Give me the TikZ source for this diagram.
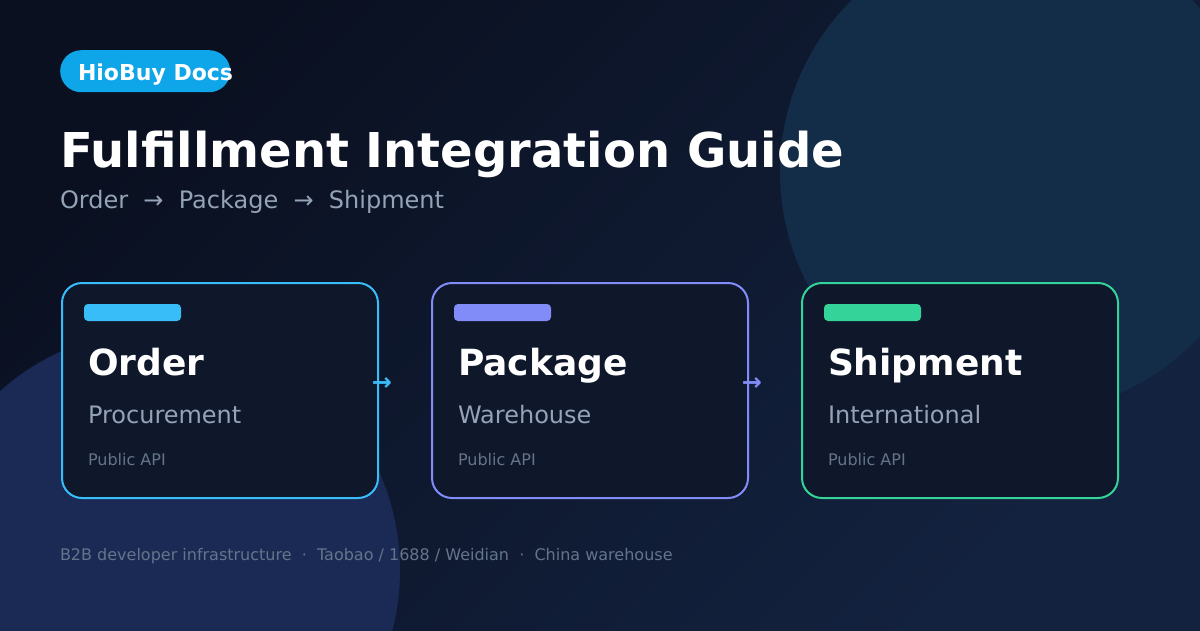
\documentclass[tikz,border=0pt]{standalone}
\usepackage{fontspec}
\setmainfont{DejaVu Sans}
\usetikzlibrary{calc}
\definecolor{bgA}{HTML}{0A1020}
\definecolor{bgB}{HTML}{13223F}
\definecolor{circTR}{HTML}{132C48}
\definecolor{circBL}{HTML}{1B2A54}
\definecolor{cardfill}{HTML}{0F172A}
\definecolor{cblue}{HTML}{38BDF8}
\definecolor{cviolet}{HTML}{818CF8}
\definecolor{cgreen}{HTML}{34D399}
\definecolor{pill}{HTML}{0EA5E9}
\definecolor{muted}{HTML}{94A3B8}
\definecolor{dim}{HTML}{64748B}
\tikzset{
  card/.style={draw=#1, fill=cardfill, line width=2pt, rounded corners=20pt,
    minimum width=316pt, minimum height=215pt, inner sep=0pt, outer sep=0pt},
  cardbar/.style={fill=#1, rounded corners=4pt},
  txt/.style={anchor=base west, inner sep=0pt, outer sep=0pt},
  cardtitle/.style={txt, text=white, font=\fontsize{36}{40}\selectfont\bfseries},
  cardsub/.style={txt, text=muted, font=\fontsize{24}{28}\selectfont},
  cardnote/.style={txt, text=dim, font=\fontsize{16}{19}\selectfont},
  flowarrow/.style={text=#1, inner sep=0pt, font=\fontsize{24}{28}\selectfont\bfseries},
}
\begin{document}
\begin{tikzpicture}[x=1pt,y=-1pt]
\useasboundingbox (0,0) rectangle (1200,630);
% background
\shade[top color=bgA, bottom color=bgB, shading angle=45] (0,0) rectangle (1200,630);
\fill[circTR] (1022,172) circle (242);
\fill[circBL] (160,570) circle (240);
% header
\node[fill=pill, rounded corners=21pt, minimum width=170pt, minimum height=42pt, inner sep=0pt, anchor=north west] (badge) at (60,50) {};
\node[txt, text=white, font=\fontsize{22}{26}\selectfont\bfseries] (badgetext) at (78,80) {HioBuy Docs};
\node[txt, text=white, font=\fontsize{48}{56}\selectfont\bfseries] (title) at (60,167) {Fulfillment Integration Guide};
\node[txt, text=muted, font=\fontsize{24}{28}\selectfont] (subtitle) at (60,208) {Order\ \ →\ \ Package\ \ →\ \ Shipment};
% cards
\node[card=cblue] (c1) at (220,390.5) {};
\node[card=cviolet] (c2) at (590,390.5) {};
\node[card=cgreen] (c3) at (960,390.5) {};
\foreach \c/\col/\t/\s in {c1/cblue/Order/Procurement, c2/cviolet/Package/Warehouse, c3/cgreen/Shipment/International}{
  \fill[cardbar=\col] ($(\c.north west)+(22,21)$) rectangle ($(\c.north west)+(119,38)$);
  \node[cardtitle] (\c-title) at ($(\c.north west)+(26,92)$) {\t};
  \node[cardsub] (\c-sub) at ($(\c.north west)+(26,140)$) {\s};
  \node[cardnote] (\c-note) at ($(\c.north west)+(26,182)$) {Public API};
}
\node[flowarrow=cblue] (a1) at ($(c1.east)+(4,-6)$) {→};
\node[flowarrow=cviolet] (a2) at ($(c2.east)+(4,-6)$) {→};
% footer
\node[txt, text=dim, font=\fontsize{16}{19}\selectfont] (footer) at (60,560) {B2B developer infrastructure\ \ ·\ \ Taobao / 1688 / Weidian\ \ ·\ \ China warehouse};
\end{tikzpicture}
\end{document}
